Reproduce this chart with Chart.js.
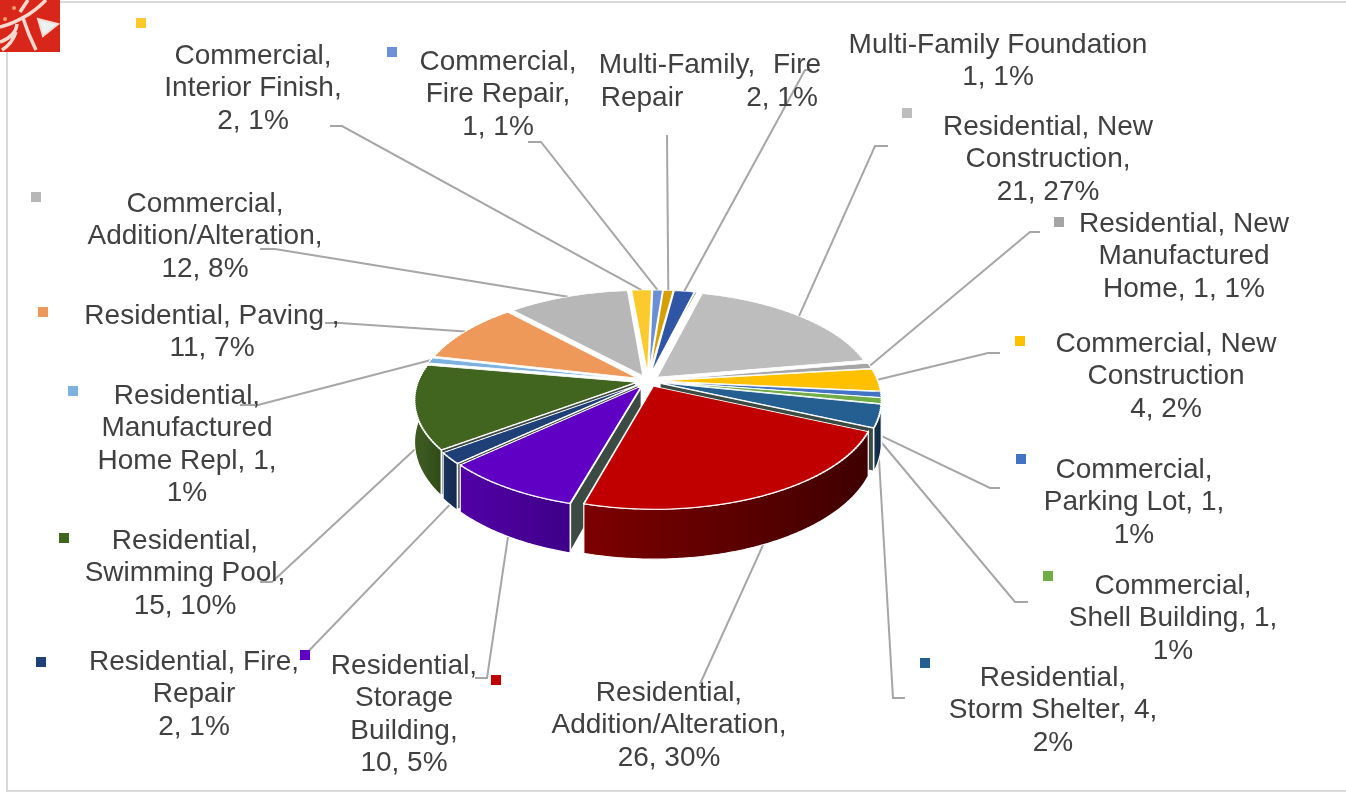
<!DOCTYPE html>
<html>
<head>
<meta charset="utf-8">
<title>Permits by type</title>
<script src="https://cdn.jsdelivr.net/npm/chart.js@4"></script>
<style>
  html, body { margin: 0; padding: 0; background: #fff; overflow: hidden; }
  #wrap { position: relative; width: 1346px; height: 792px; }
  #frame { position: absolute; left: 6px; top: 1px; width: 1342px; height: 787px; border: 2px solid #d9d9d9; }
  #logo { position: absolute; left: 0; top: 0; }
  canvas { position: absolute; left: 0; top: 0; }
</style>
</head>
<body>
<div id="wrap">
  <div id="frame"></div>
  <canvas id="myChart" width="1346" height="792"></canvas>
  <svg id="logo" width="60" height="52" viewBox="0 0 60 52">
    <rect width="60" height="52" fill="#d8261a"/>
    <path d="M46 0 Q34 12 24 17 Q12 24 0 27 M0 42 Q16 36 17 24 M16 32 Q12 44 2 50 M23 18 Q28 34 36 50 M28 0 L20 12"
          fill="none" stroke="#f7d9d0" stroke-width="3.5"/>
    <path d="M38 19 L58 24 L43 36 Z" fill="#eaf3ef" stroke="#f7d9d0" stroke-width="2"/>
    <circle cx="14" cy="8" r="2" fill="#f2a070"/>
    <circle cx="5" cy="19" r="2" fill="#f2a070"/>
  </svg>
</div>
<script>
// slices, clockwise from the top of the pie
const categories = [
  "Commercial, Interior Finish", "Commercial, Fire Repair", "Multi-Family, Repair",
  "Multi-Family, Fire", "Multi-Family Foundation", "Residential, New Construction",
  "Residential, New Manufactured Home", "Commercial, New Construction", "Commercial, Parking Lot",
  "Commercial, Shell Building", "Residential, Storm Shelter", "Residential, Addition/Alteration",
  "Residential, Storage Building", "Residential, Fire Repair", "Residential, Swimming Pool",
  "Residential, Manufactured Home Repl", "Residential, Paving", "Commercial, Addition/Alteration"
];
const counts = [2, 1, 1, 2, 0.2, 21, 1, 4, 1, 1, 4, 26, 10, 2, 15, 1, 11, 12];

const colors = [
  "#fdca2e", "#6a8fd6", "#d6a000", "#2f55a5", "#4f7a30", "#bdbdbd",
  "#a5a5a5", "#ffc000", "#4472c4", "#70ad47", "#255e91", "#c00000",
  "#6000c4", "#1f3f77", "#41641f", "#7db2e0", "#ee985a", "#b7b7b7"
];
const rimColors = [
  "#b38a10", "#4a6a9e", "#94700a", "#1e3a70", "#35521e", "#808080",
  "#707070", "#b08500", "#2f5088", "#4c7730", "#16344f", "#7c0000",
  "#5200a6", "#1a3560", "#3c5a20", "#5a84a8", "#a86a3e", "#808080"
];
const rimShade = [
  "#8a6a0c", "#38527a", "#705508", "#162c56", "#283e16", "#606060",
  "#555555", "#866500", "#223c66", "#39591f", "#0f2740", "#3f0000",
  "#3e0088", "#142a4c", "#2f4a18", "#446580", "#80502e", "#606060"
];

// label text, one group per block of text on the picture
const labelText = [
  ["Commercial,", "Interior Finish,", "2, 1%"],
  ["Commercial,", "Fire Repair,", "1, 1%"],
  ["Multi-Family,"],
  ["Repair"],
  ["Fire"],
  ["2, 1%"],
  ["Multi-Family Foundation", "1, 1%"],
  ["Residential, New", "Construction,", "21, 27%"],
  ["Residential, New", "Manufactured", "Home, 1, 1%"],
  ["Commercial, New", "Construction", "4, 2%"],
  ["Commercial,", "Parking Lot, 1,", "1%"],
  ["Commercial,", "Shell Building, 1,", "1%"],
  ["Residential,", "Storm Shelter, 4,", "2%"],
  ["Residential,", "Addition/Alteration,", "26, 30%"],
  ["Residential,", "Storage", "Building,", "10, 5%"],
  ["Residential, Fire,", "Repair", "2, 1%"],
  ["Residential,", "Swimming Pool,", "15, 10%"],
  ["Residential,", "Manufactured", "Home Repl, 1,", "1%"],
  ["Residential, Paving ,", "11, 7%"],
  ["Commercial,", "Addition/Alteration,", "12, 8%"]
];
// [center x, y of first line]
const labelPos = [
  [253, 56], [498, 62], [677, 65], [642, 98], [797, 65], [782, 98], [998, 45],
  [1048, 127], [1184, 224], [1166, 344], [1134, 470], [1173, 586], [1053, 678],
  [669, 693], [404, 666], [194, 662], [185, 541], [187, 396], [212, 316], [205, 204]
];
const lineGap = 32.4;

// legend keys: slice index, center x, center y
const keys = [
  [0, 141, 23], [1, 392, 52], [5, 907, 113], [6, 1059, 222], [7, 1020, 341],
  [8, 1021, 459], [9, 1048, 576], [10, 925, 663], [11, 496, 680], [12, 305, 655],
  [13, 41, 662], [14, 64, 538], [15, 73, 391], [16, 43, 312], [17, 36, 197]
];

// leader lines: slice index, then the points on the label side
const leaders = [
  [0, [330, 126], [342, 126]], [1, [528, 142], [541, 142]], [2, [667, 135]], [3, [812, 70], [805, 70]],
  [5, [888, 146], [875, 146]], [6, [1040, 232], [1030, 232]], [7, [1000, 353], [988, 353]],
  [8, [1000, 488], [990, 488]], [9, [1028, 602], [1015, 602]], [10, [905, 698], [893, 698]],
  [11, [700, 684]], [12, [475, 678], [487, 678]], [13, [300, 660]], [14, [260, 582], [272, 582]],
  [15, [240, 405], [258, 405]], [16, [325, 323], [340, 323]], [17, [260, 249], [275, 249]]
];

// where the flat pie lands on the page: perspective with the near edge larger
const view = { x0: 648, y0: 381, a: 230, b: 106.7, k: 0.1727 };
const explode = 22;

function project(arc, px, py) {
  const R0 = arc.outerRadius + explode;
  const u = (px - arc.x) / R0;
  const v = (py - arc.y) / R0;
  const w = 1 - view.k * v;
  return { x: view.x0 + view.a * u / w, y: view.y0 + view.b * v / w, v: v };
}

function depthAt(v) {
  return 40 + 10 * v;
}

function midAngle(arc) {
  return (arc.startAngle + arc.endAngle) / 2;
}

function rimPoint(arc, angle) {
  const mid = midAngle(arc);
  const px = arc.x + explode * Math.cos(mid) + arc.outerRadius * Math.cos(angle);
  const py = arc.y + explode * Math.sin(mid) + arc.outerRadius * Math.sin(angle);
  return project(arc, px, py);
}

function apexPoint(arc) {
  const mid = midAngle(arc);
  return project(arc, arc.x + explode * Math.cos(mid), arc.y + explode * Math.sin(mid));
}

function drawSide(ctx, arc, i) {
  const pts = [];
  for (let t = arc.startAngle; t < arc.endAngle; t += 0.01) {
    const p = rimPoint(arc, t);
    if (p.v > view.k - 0.25) pts.push(p);
  }
  const last = rimPoint(arc, arc.endAngle);
  if (last.v > view.k - 0.25) pts.push(last);

  // walls on the cut edges that face the viewer
  const apex = apexPoint(arc);
  const walls = [];
  if (Math.cos(arc.endAngle) > 0) walls.push(arc.endAngle);
  if (Math.cos(arc.startAngle) < 0) walls.push(arc.startAngle);
  walls.forEach(function (t) {
    const p = rimPoint(arc, t);
    if (p.v < 0) return;
    ctx.beginPath();
    ctx.moveTo(apex.x, apex.y);
    ctx.lineTo(p.x, p.y);
    ctx.lineTo(p.x, p.y + depthAt(p.v));
    ctx.lineTo(apex.x, apex.y + depthAt(apex.v));
    ctx.closePath();
    ctx.fillStyle = "#3c4a44";
    ctx.fill();
    ctx.strokeStyle = "#ffffff";
    ctx.lineWidth = 2;
    ctx.stroke();
  });

  if (pts.length < 2) return;
  const grad = ctx.createLinearGradient(pts[0].x, 0, pts[pts.length - 1].x, 0);
  grad.addColorStop(0, rimShade[i]);
  grad.addColorStop(1, rimColors[i]);
  ctx.beginPath();
  ctx.moveTo(pts[0].x, pts[0].y);
  pts.forEach(function (p) { ctx.lineTo(p.x, p.y); });
  for (let j = pts.length - 1; j >= 0; j--) {
    ctx.lineTo(pts[j].x, pts[j].y + depthAt(pts[j].v));
  }
  ctx.closePath();
  ctx.fillStyle = grad;
  ctx.fill();
  ctx.strokeStyle = "#ffffff";
  ctx.lineWidth = 1.2;
  ctx.stroke();
}

const pie3d = {
  id: "pie3d",
  beforeDatasetsDraw(chart) {
    const ctx = chart.ctx;
    const arcs = chart.getDatasetMeta(0).data;

    // leader lines go under the pie
    ctx.save();
    ctx.strokeStyle = "#a6a6a6";
    ctx.lineWidth = 2;
    leaders.forEach(function (l) {
      const arc = arcs[l[0]];
      const end = rimPoint(arc, midAngle(arc));
      ctx.beginPath();
      ctx.moveTo(l[1][0], l[1][1]);
      for (let j = 2; j < l.length; j++) ctx.lineTo(l[j][0], l[j][1]);
      ctx.lineTo(end.x, end.y + (end.v > 0 ? depthAt(end.v) : 0));
      ctx.stroke();
    });
    ctx.restore();

    // sides, back slices first
    const order = arcs.map(function (a, i) { return i; });
    const midSin = function (i) { return Math.sin(midAngle(arcs[i])); };
    order.sort(function (p, q) { return midSin(p) - midSin(q); });
    order.forEach(function (i) {
      ctx.save();
      drawSide(ctx, arcs[i], i);
      ctx.restore();
    });

    // top face: the library's arcs, pulled apart and drawn through the perspective band by band
    const R0 = arcs[0].outerRadius + explode;
    const cx = arcs[0].x, cy = arcs[0].y;
    const step = 2;
    for (let Y = 284; Y < 520; Y += step) {
      const y1 = Y - view.y0, y2 = y1 + step;
      const v1 = y1 / (view.b + view.k * y1);
      const v2 = y2 / (view.b + view.k * y2);
      const w = 1 - view.k * (v1 + v2) / 2;
      const sx = view.a / (R0 * w);
      const sy = step / ((v2 - v1) * R0);
      ctx.save();
      ctx.beginPath();
      ctx.rect(0, Y, chart.width, step);
      ctx.clip();
      ctx.transform(sx, 0, 0, sy, view.x0 - sx * cx, Y - sy * (cy + v1 * R0));
      arcs.forEach(function (arc) {
        const mid = midAngle(arc);
        ctx.save();
        ctx.translate(explode * Math.cos(mid), explode * Math.sin(mid));
        arc.draw(ctx);
        ctx.restore();
      });
      ctx.restore();
    }
    return false;
  },
  afterDraw(chart) {
    const ctx = chart.ctx;
    ctx.save();
    ctx.fillStyle = "#404040";
    ctx.font = '28px "Liberation Sans", Arial, sans-serif';
    ctx.textAlign = "center";
    ctx.textBaseline = "middle";
    labelText.forEach(function (lines, n) {
      lines.forEach(function (line, j) {
        ctx.fillText(line, labelPos[n][0], labelPos[n][1] + j * lineGap);
      });
    });
    keys.forEach(function (key) {
      ctx.fillStyle = colors[key[0]];
      ctx.fillRect(key[1] - 5, key[2] - 5, 10, 10);
    });
    ctx.restore();
  }
};

new Chart(document.getElementById("myChart"), {
  type: "pie",
  data: {
    labels: categories,
    datasets: [{
      data: counts,
      backgroundColor: colors,
      borderColor: "#ffffff",
      borderWidth: 3
    }]
  },
  options: {
    responsive: false,
    animation: false,
    rotation: -5,
    events: [],
    plugins: { legend: { display: false }, tooltip: { enabled: false } }
  },
  plugins: [pie3d]
});
</script>
</body>
</html>
